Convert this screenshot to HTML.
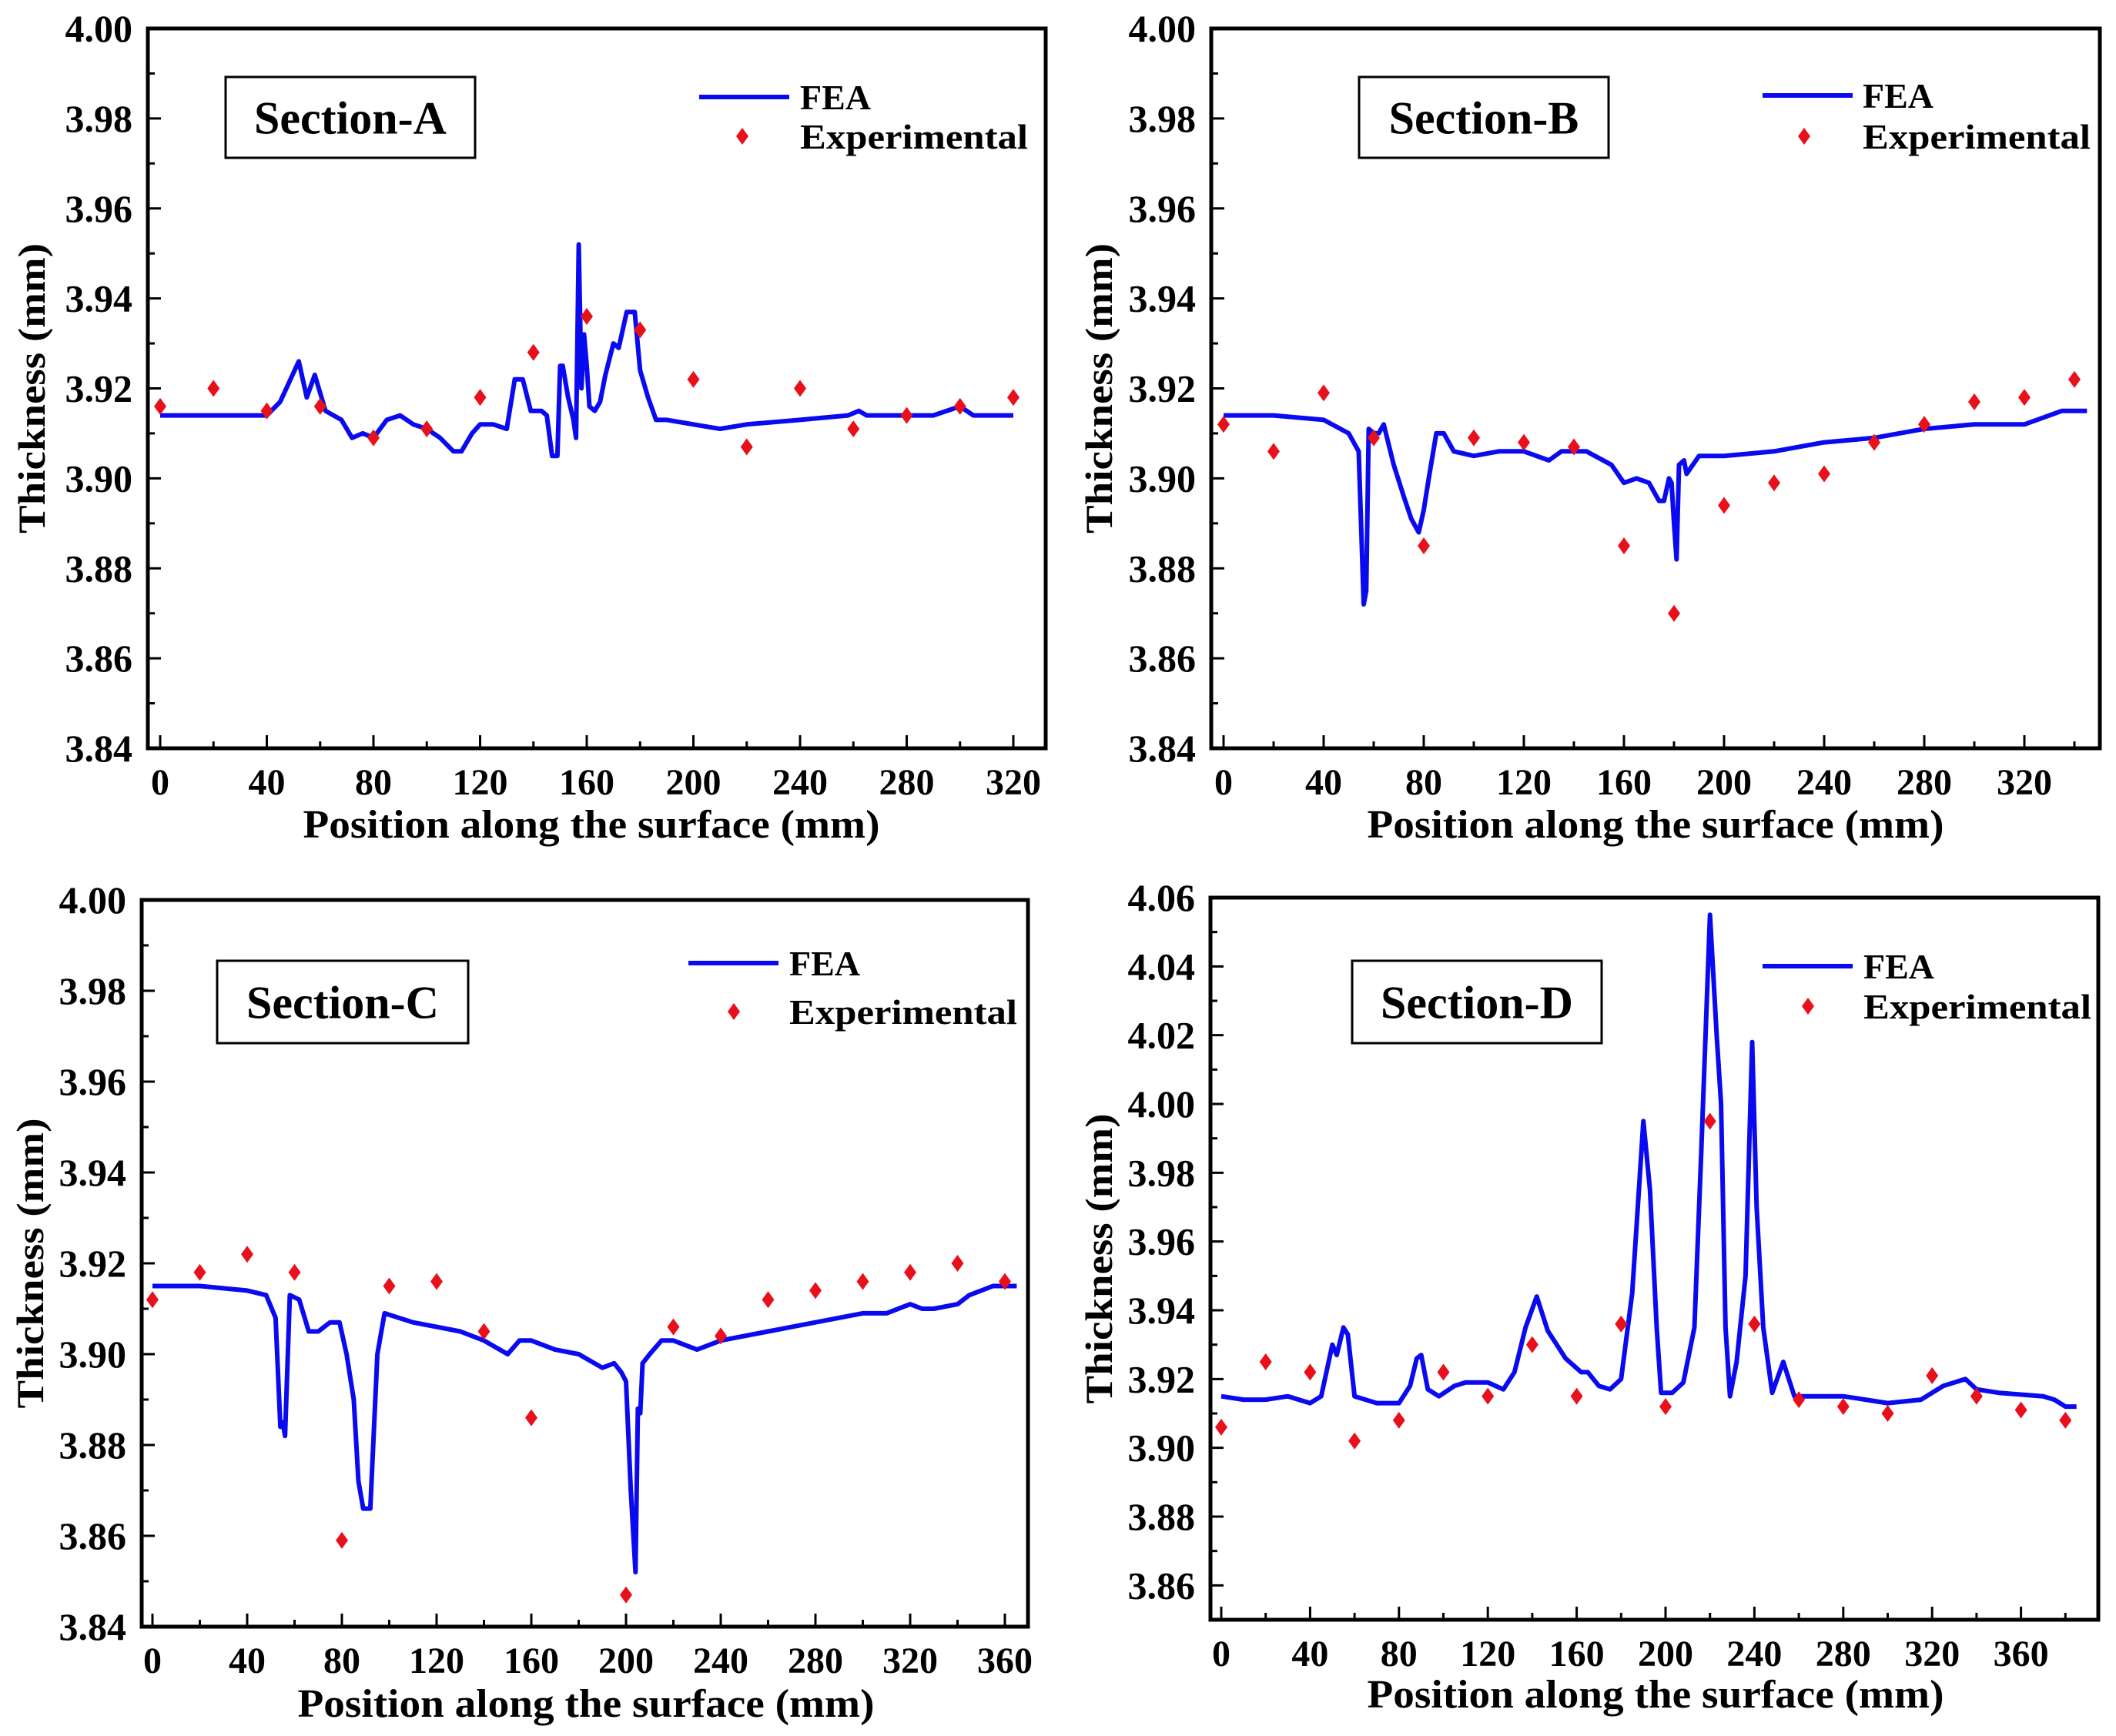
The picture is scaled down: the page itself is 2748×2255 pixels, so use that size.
<!DOCTYPE html>
<html><head><meta charset="utf-8"><style>
html,body{margin:0;padding:0;background:#fff}
svg{display:block}
text{font-family:"Liberation Serif",serif;font-weight:bold;fill:#000}
</style></head><body>
<svg id="chart" width="2748" height="2255" viewBox="0 0 2748 2255" xmlns="http://www.w3.org/2000/svg"></svg>
<script>
// ---- Section A data ----
const feaAx=[0,20,40,45,52,55,58,62,68,72,76,80,85,90,95,100,105,110,113,117,120,125,130,133,136,139,143,145,147,149,150,151,153,155,156,157,158,159,160,161,163,165,167,170,172,175,178,180,183,186,190,200,210,220,240,258,262,265,280,290,300,305,320];
const feaAy=[3.914,3.914,3.914,3.917,3.926,3.918,3.923,3.915,3.913,3.909,3.910,3.909,3.913,3.914,3.912,3.911,3.909,3.906,3.906,3.910,3.912,3.912,3.911,3.922,3.922,3.915,3.915,3.914,3.905,3.905,3.925,3.925,3.918,3.913,3.909,3.952,3.920,3.932,3.925,3.916,3.915,3.917,3.923,3.930,3.929,3.937,3.937,3.924,3.918,3.913,3.913,3.912,3.911,3.912,3.913,3.914,3.915,3.914,3.914,3.914,3.916,3.914,3.914];
const expAx=[0,20,40,60,80,100,120,140,160,180,200,220,240,260,280,300,320];
const expAy=[3.916,3.920,3.915,3.916,3.909,3.911,3.918,3.928,3.936,3.933,3.922,3.907,3.920,3.911,3.914,3.916,3.918];
// ---- Section B data ----
const feaBx=[0,20,40,50,54,56,57,58,60,62,64,68,72,75,78,80,82,85,88,92,100,110,120,130,135,145,155,160,165,170,174,176,178,179,180,181,182,184,185,190,200,220,240,260,280,300,320,330,335,345];
const feaBy=[3.914,3.914,3.913,3.910,3.906,3.872,3.875,3.911,3.910,3.910,3.912,3.903,3.896,3.891,3.888,3.893,3.900,3.910,3.910,3.906,3.905,3.906,3.906,3.904,3.906,3.906,3.903,3.899,3.900,3.899,3.895,3.895,3.900,3.899,3.890,3.882,3.903,3.904,3.901,3.905,3.905,3.906,3.908,3.909,3.911,3.912,3.912,3.914,3.915,3.915];
const expBx=[0,20,40,60,80,100,120,140,160,180,200,220,240,260,280,300,320,340];
const expBy=[3.912,3.906,3.919,3.909,3.885,3.909,3.908,3.907,3.885,3.870,3.894,3.899,3.901,3.908,3.912,3.917,3.918,3.922];
// ---- Section C data ----
const feaCx=[0,20,40,48,52,54,55,56,58,62,66,70,75,79,82,85,87,89,92,95,98,110,120,130,140,150,155,160,170,180,190,195,198,200,202,204,205,206,207,210,215,220,230,240,260,280,300,310,320,325,330,340,345,355,365];
const feaCy=[3.915,3.915,3.914,3.913,3.908,3.884,3.885,3.882,3.913,3.912,3.905,3.905,3.907,3.907,3.900,3.890,3.872,3.866,3.866,3.900,3.909,3.907,3.906,3.905,3.903,3.900,3.903,3.903,3.901,3.900,3.897,3.898,3.896,3.894,3.870,3.852,3.888,3.887,3.898,3.900,3.903,3.903,3.901,3.903,3.905,3.907,3.909,3.909,3.911,3.910,3.910,3.911,3.913,3.915,3.915];
const expCx=[0,20,40,60,80,100,120,140,160,200,220,240,260,280,300,320,340,360];
const expCy=[3.912,3.918,3.922,3.918,3.859,3.915,3.916,3.905,3.886,3.847,3.906,3.904,3.912,3.914,3.916,3.918,3.920,3.916];
// ---- Section D data ----
const feaDx=[0,10,20,30,40,45,50,52,55,57,60,70,80,85,88,90,93,98,105,110,120,127,132,137,142,147,155,162,165,170,175,180,185,190,193,196,198,203,208,213,216,220,223,225,227,229,232,236,239,241,244,248,253,258,270,280,290,300,315,325,335,340,350,370,375,380,385];
const feaDy=[3.915,3.914,3.914,3.915,3.913,3.915,3.930,3.927,3.935,3.933,3.915,3.913,3.913,3.918,3.926,3.927,3.917,3.915,3.918,3.919,3.919,3.917,3.922,3.935,3.944,3.934,3.926,3.922,3.922,3.918,3.917,3.920,3.945,3.995,3.975,3.935,3.916,3.916,3.919,3.935,3.985,4.055,4.020,4.000,3.935,3.915,3.925,3.950,4.018,3.970,3.935,3.916,3.925,3.915,3.915,3.915,3.914,3.913,3.914,3.918,3.920,3.917,3.916,3.915,3.914,3.912,3.912];
const expDx=[0,20,40,60,80,100,120,140,160,180,200,220,240,260,280,300,320,340,360,380];
const expDy=[3.906,3.925,3.922,3.902,3.908,3.922,3.915,3.930,3.915,3.936,3.912,3.995,3.936,3.914,3.912,3.910,3.921,3.915,3.911,3.908];
const xTicksA=[0,40,80,120,160,200,240,280,320];
const xTicksB=[0,40,80,120,160,200,240,280,320];
const xTicksC=[0,40,80,120,160,200,240,280,320,360];
const xTicksD=[0,40,80,120,160,200,240,280,320,360];
const yTicksABC=[3.84,3.86,3.88,3.90,3.92,3.94,3.96,3.98,4.00];
const yTicksD=[3.86,3.88,3.90,3.92,3.94,3.96,3.98,4.00,4.02,4.04,4.06];

const NS="http://www.w3.org/2000/svg";
const svg=document.getElementById('chart');
function mk(tag,attrs,parent){const e=document.createElementNS(NS,tag);for(const k in attrs)e.setAttribute(k,attrs[k]);(parent||svg).appendChild(e);return e;}

const panels=[
 {id:'a',title:'Section-A',L:192,R:1358,T:37,B:972,x0:208,xs:138.5/40,ymin:3.84,ymax:4.00,fx:feaAx,fy:feaAy,ex:expAx,ey:expAy,xt:xTicksA,xmax:330,yt:yTicksABC,
  box:[293,100,324,105],leg:[908,1025,126,964,177,1039],yt_x:42,xt_x:768,xt_y:1088},
 {id:'b',title:'Section-B',L:1573,R:2727,T:37,B:972,x0:1589,xs:130/40,ymin:3.84,ymax:4.00,fx:feaBx,fy:feaBy,ex:expBx,ey:expBy,xt:xTicksB,xmax:348,yt:yTicksABC,
  box:[1765,100,324,105],leg:[2289,2406,124,2343,177,2419],yt_x:1428,xt_x:2150,xt_y:1088},
 {id:'c',title:'Section-C',L:184,R:1335,T:1169,B:2113,x0:198,xs:123/40,ymin:3.84,ymax:4.00,fx:feaCx,fy:feaCy,ex:expCx,ey:expCy,xt:xTicksC,xmax:370,yt:yTicksABC,
  box:[282,1248,326,107],leg:[894,1011,1251,953,1314,1025],yt_x:40,xt_x:761,xt_y:2230},
 {id:'d',title:'Section-D',L:1572,R:2725,T:1166,B:2104,x0:1586,xs:115.4/40,ymin:3.85,ymax:4.06,fx:feaDx,fy:feaDy,ex:expDx,ey:expDy,xt:xTicksD,xmax:390,yt:yTicksD,
  box:[1756,1248,324,107],leg:[2289,2406,1255,2348,1307,2420],yt_x:1428,xt_x:2150,xt_y:2218}
];

panels.forEach(p=>{
 const g=mk('g',{});
 
 
 const X=v=>p.x0+v*p.xs;
 const Y=v=>p.B-(v-p.ymin)/(p.ymax-p.ymin)*(p.B-p.T);
 const cp=mk('clipPath',{id:'clip'+p.id},g);
 mk('rect',{x:p.L,y:p.T,width:p.R-p.L,height:p.B-p.T},cp);
 let d='';p.fx.forEach((v,i)=>{d+=(i?'L':'M')+X(v).toFixed(1)+' '+Y(p.fy[i]).toFixed(1);});
 const line=mk('path',{d:d,fill:'none',stroke:'#0a0af0','stroke-width':6,'stroke-linejoin':'round','clip-path':'url(#clip'+p.id+')'},g);
 
 
 p.ex.forEach((v,i)=>{const cx=X(v),cy=Y(p.ey[i]);
  const m=mk('path',{d:`M${cx} ${cy-11}L${cx+8} ${cy}L${cx} ${cy+11}L${cx-8} ${cy}Z`,fill:'#e8101a'},g);
  
  
 });
 const fr=mk('rect',{x:p.L,y:p.T,width:p.R-p.L,height:p.B-p.T,fill:'none',stroke:'#000','stroke-width':5},g);
 
 
 for(let v=0;v<=p.xmax;v+=20){const x=X(v);const major=v%40===0;
  mk('line',{x1:x,x2:x,y1:p.B,y2:p.B-(major?17:9),stroke:'#000','stroke-width':3},g);}
 p.xt.forEach(v=>{const t=mk('text',{x:X(v),y:p.B+60,'text-anchor':'middle','font-size':48},g);t.textContent=v;
  
  });
 const step=0.01;
 for(let k=0;;k++){const v=p.ymin+k*step;if(v>p.ymax+1e-9)break;const y=Y(v);
  const major=Math.round(v*100)%2===0;
  mk('line',{x1:p.L,x2:p.L+(major?17:9),y1:y,y2:y,stroke:'#000','stroke-width':3},g);}
 p.yt.forEach(v=>{const t=mk('text',{x:p.L-20,y:Y(v)+17,'text-anchor':'end','font-size':50},g);t.textContent=v.toFixed(2);
  
  });
 const cy=(p.T+p.B)/2;
 const yt=mk('text',{x:0,y:0,transform:`translate(${p.yt_x+16},${cy}) rotate(-90)`,'text-anchor':'middle','font-size':50,textLength:377,lengthAdjust:'spacingAndGlyphs'},g);
 yt.textContent='Thickness (mm)';
 
 
 const xt=mk('text',{x:p.xt_x,y:p.xt_y,'text-anchor':'middle','font-size':52,textLength:749,lengthAdjust:'spacingAndGlyphs'},g);
 xt.textContent='Position along the surface (mm)';
 
 
 const b=p.box;
 const br=mk('rect',{x:b[0],y:b[1],width:b[2],height:b[3],fill:'#fff',stroke:'#000','stroke-width':3},g);
 
 
 const st=mk('text',{x:b[0]+b[2]/2,y:b[1]+b[3]/2+21,'text-anchor':'middle','font-size':60},g);
 st.textContent=p.title;
 
 
 const l=p.leg;
 const ll=mk('line',{x1:l[0],x2:l[1],y1:l[2],y2:l[2],stroke:'#0a0af0','stroke-width':6},g);
 
 
 const lt=mk('text',{x:l[5],y:l[2]+16,'font-size':46},g);lt.textContent='FEA';
 
 
 const lm=mk('path',{d:`M${l[3]} ${l[4]-11}L${l[3]+8} ${l[4]}L${l[3]} ${l[4]+11}L${l[3]-8} ${l[4]}Z`,fill:'#e8101a'},g);
 
 
 const le=mk('text',{x:l[5],y:l[4]+16,'font-size':46,textLength:296,lengthAdjust:'spacingAndGlyphs'},g);le.textContent='Experimental';
 
 
});
</script>
</body></html>
